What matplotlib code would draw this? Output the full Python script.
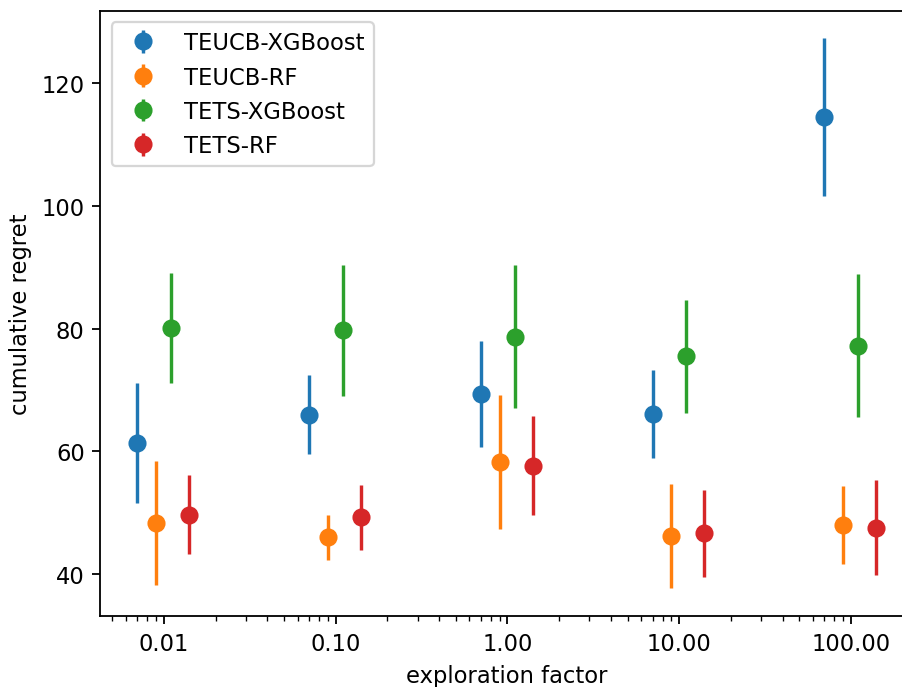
import numpy as np
import matplotlib
matplotlib.use('Agg')
import matplotlib.pyplot as plt
from matplotlib.ticker import FormatStrFormatter

# factores de exploracion
factores = [0.01, 0.1, 1, 10, 100]

# media y error
teucb_xgb = [61.4, 66.0, 69.3, 66.1, 114.4]
teucb_xgb_err = [9.8, 6.4, 8.6, 7.2, 12.8]
teucb_rf = [48.3, 46.0, 58.3, 46.2, 48.0]
teucb_rf_err = [10.1, 3.6, 10.9, 8.5, 6.3]
tets_xgb = [80.1, 79.7, 78.7, 75.5, 77.2]
tets_xgb_err = [9.0, 10.6, 11.7, 9.2, 11.6]
tets_rf = [49.7, 49.3, 57.7, 46.7, 47.6]
tets_rf_err = [6.4, 5.3, 8.1, 7.1, 7.7]

nombres = ['TEUCB-XGBoost', 'TEUCB-RF', 'TETS-XGBoost', 'TETS-RF']
desplaz = [0.7, 0.9, 1.1, 1.4]

DPI = 163
fig = plt.figure(figsize=(902/DPI, 688/DPI), dpi=DPI)
ax = fig.add_axes([0.1114, 0.1032, 1.0122-0.1114, 0.9826-0.1032])

f = np.array(factores)
series = [(teucb_xgb, teucb_xgb_err), (teucb_rf, teucb_rf_err),
          (tets_xgb, tets_xgb_err), (tets_rf, tets_rf_err)]
for (m, e), nom, d in zip(series, nombres, desplaz):
    ax.errorbar(f*d, m, yerr=e, fmt='o', ms=7, label=nom)

ax.set_xscale('log')
ax.xaxis.set_major_formatter(FormatStrFormatter('%.2f'))
ax.set_xlabel('exploration factor')
ax.set_ylabel('cumulative regret')
ax.legend(loc='upper left')

fig.savefig('out.png', dpi=DPI)
